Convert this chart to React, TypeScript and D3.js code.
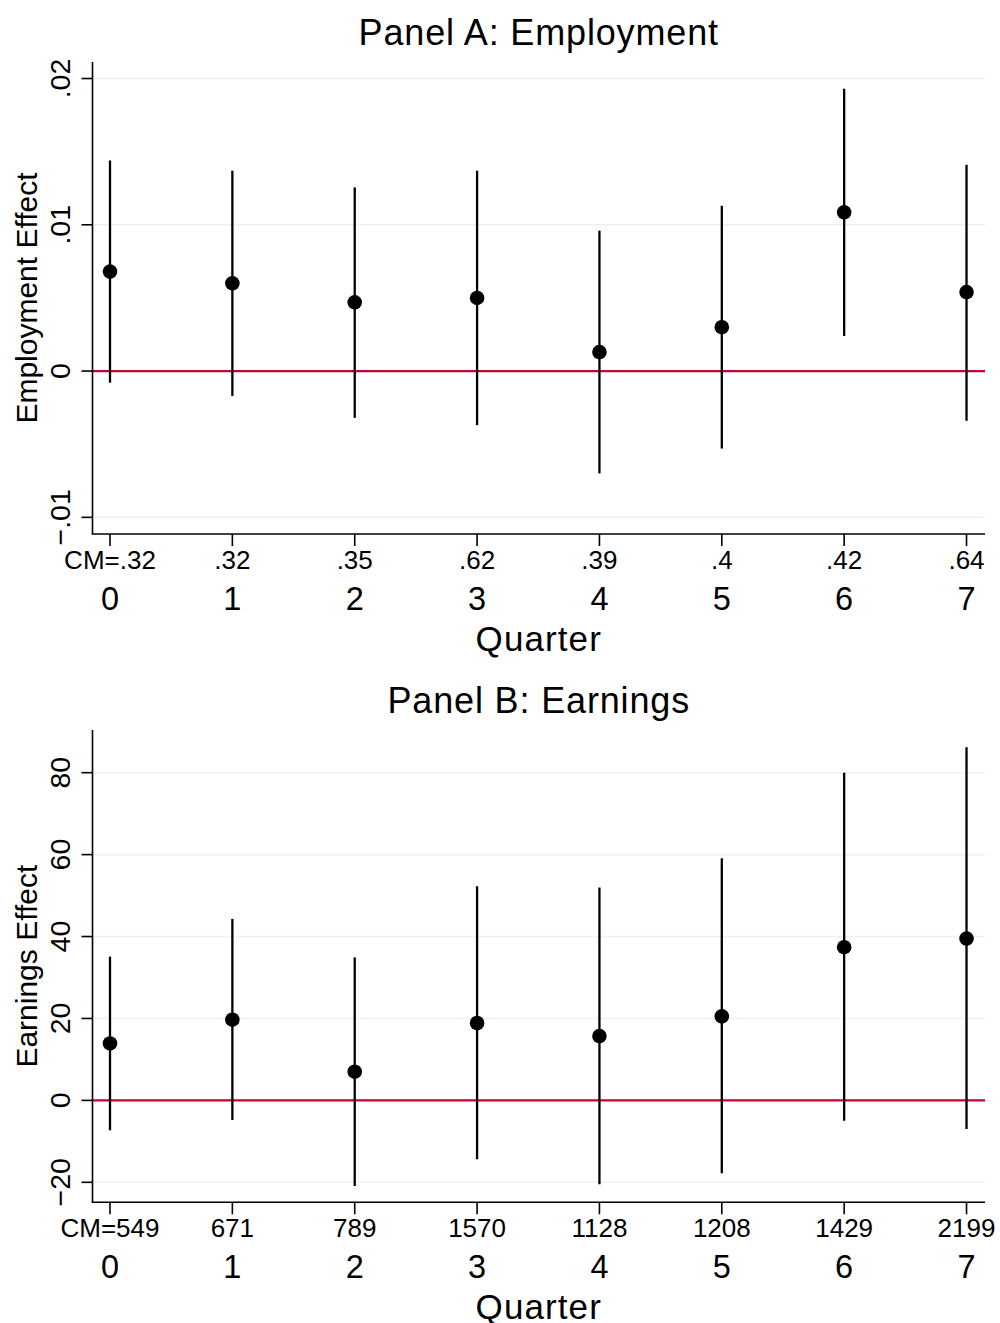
import React from "react";
import * as d3 from "d3";

const quarters = [0, 1, 2, 3, 4, 5, 6, 7];

const cmEmployment = ["CM=.32", ".32", ".35", ".62", ".39", ".4", ".42", ".64"];
const cmEarnings = ["CM=549", "671", "789", "1570", "1128", "1208", "1429", "2199"];

const empCoef = [0.0068, 0.006, 0.0047, 0.005, 0.0013, 0.003, 0.01085, 0.0054];
const empLow = [-0.0008, -0.0017, -0.0032, -0.0037, -0.007, -0.0053, 0.0024, -0.0034];
const empHigh = [0.0144, 0.0137, 0.01256, 0.0137, 0.0096, 0.0113, 0.0193, 0.0141];

const earnCoef = [13.9, 19.7, 7.0, 18.9, 15.7, 20.5, 37.4, 39.5];
const earnLow = [-7.3, -4.8, -20.9, -14.4, -20.5, -17.8, -5.0, -7.0];
const earnHigh = [35.1, 44.3, 34.9, 52.3, 52.0, 59.1, 80.0, 86.2];

const empTicks = [-0.01, 0, 0.01, 0.02];
const empTickLabels = ["\u2212.01", "0", ".01", ".02"];
const earnTicks = [-20, 0, 20, 40, 60, 80];
const earnTickLabels = ["\u221220", "0", "20", "40", "60", "80"];

const FONT = "'Liberation Sans', Arial, Helvetica, sans-serif";
const RED = "#c10534";
const GRID = "#eaf2f3";

type PanelProps = {
  title: string;
  yTitle: string;
  top: number;
  bottom: number;
  yDomain: [number, number];
  ticks: number[];
  tickLabels: string[];
  cm: string[];
  coef: number[];
  low: number[];
  high: number[];
};

const X_LEFT = 92.5;
const X_RIGHT = 985;

function Panel(p: PanelProps) {
  const x = d3.scaleLinear().domain([-0.143, 7.151]).range([X_LEFT, X_RIGHT]);
  const y = d3.scaleLinear().domain(p.yDomain).range([p.bottom, p.top]);
  const midY = (p.top + p.bottom) / 2;
  const midX = (X_LEFT + X_RIGHT) / 2;
  return (
    <g>
      <text
        x={midX}
        y={p.top - 17}
        textAnchor="middle"
        fontSize={36}
        letterSpacing={0.85}
        fontFamily={FONT}
        fill="#000"
      >
        {p.title}
      </text>
      {p.ticks.map((t, i) => (
        <line
          key={"g" + i}
          x1={X_LEFT}
          x2={X_RIGHT}
          y1={y(t)}
          y2={y(t)}
          stroke={GRID}
          strokeWidth={1.6}
        />
      ))}
      <line x1={X_LEFT} x2={X_RIGHT} y1={y(0)} y2={y(0)} stroke={RED} strokeWidth={2.2} />
      <line x1={X_LEFT} x2={X_LEFT} y1={p.top} y2={p.bottom} stroke="#000" strokeWidth={1.6} />
      <line x1={X_LEFT - 0.8} x2={X_RIGHT} y1={p.bottom} y2={p.bottom} stroke="#000" strokeWidth={1.6} />
      {p.ticks.map((t, i) => (
        <g key={"yt" + i}>
          <line x1={X_LEFT - 11} x2={X_LEFT} y1={y(t)} y2={y(t)} stroke="#000" strokeWidth={1.6} />
          <text
            transform={`translate(70,${y(t)}) rotate(-90)`}
            textAnchor="middle"
            fontSize={28.5}
            fontFamily={FONT}
            fill="#000"
          >
            {p.tickLabels[i]}
          </text>
        </g>
      ))}
      <text
        transform={`translate(37,${midY}) rotate(-90)`}
        textAnchor="middle"
        fontSize={30}
        fontFamily={FONT}
        fill="#000"
      >
        {p.yTitle}
      </text>
      {quarters.map((q, i) => (
        <g key={"xt" + i}>
          <line x1={x(q)} x2={x(q)} y1={p.bottom} y2={p.bottom + 12} stroke="#000" strokeWidth={1.6} />
          <text
            x={x(q)}
            y={p.bottom + 35}
            textAnchor="middle"
            fontSize={26}
            fontFamily={FONT}
            fill="#000"
          >
            {p.cm[i]}
          </text>
          <text
            x={x(q)}
            y={p.bottom + 76}
            textAnchor="middle"
            fontSize={32.5}
            fontFamily={FONT}
            fill="#000"
          >
            {String(q)}
          </text>
        </g>
      ))}
      <text
        x={midX}
        y={p.bottom + 116.5}
        textAnchor="middle"
        fontSize={35}
        letterSpacing={1.1}
        fontFamily={FONT}
        fill="#000"
      >
        Quarter
      </text>
      {quarters.map((q, i) => (
        <g key={"pt" + i}>
          <line
            x1={x(q)}
            x2={x(q)}
            y1={y(p.low[i])}
            y2={y(p.high[i])}
            stroke="#000"
            strokeWidth={2.3}
          />
          <circle cx={x(q)} cy={y(p.coef[i])} r={7.3} fill="#000" />
        </g>
      ))}
    </g>
  );
}

export default function App() {
  return (
    <svg
      width={1000}
      height={1323}
      style={{ position: "absolute", left: 0, top: 0, background: "#fff" }}
    >
      <rect x={0} y={0} width={1000} height={1323} fill="#fff" />
      <Panel
        title="Panel A: Employment"
        yTitle="Employment Effect"
        top={62}
        bottom={534}
        yDomain={[-0.01114, 0.02113]}
        ticks={empTicks}
        tickLabels={empTickLabels}
        cm={cmEmployment}
        coef={empCoef}
        low={empLow}
        high={empHigh}
      />
      <Panel
        title="Panel B: Earnings"
        yTitle="Earnings Effect"
        top={730}
        bottom={1202.3}
        yDomain={[-24.88, 90.42]}
        ticks={earnTicks}
        tickLabels={earnTickLabels}
        cm={cmEarnings}
        coef={earnCoef}
        low={earnLow}
        high={earnHigh}
      />
    </svg>
  );
}
